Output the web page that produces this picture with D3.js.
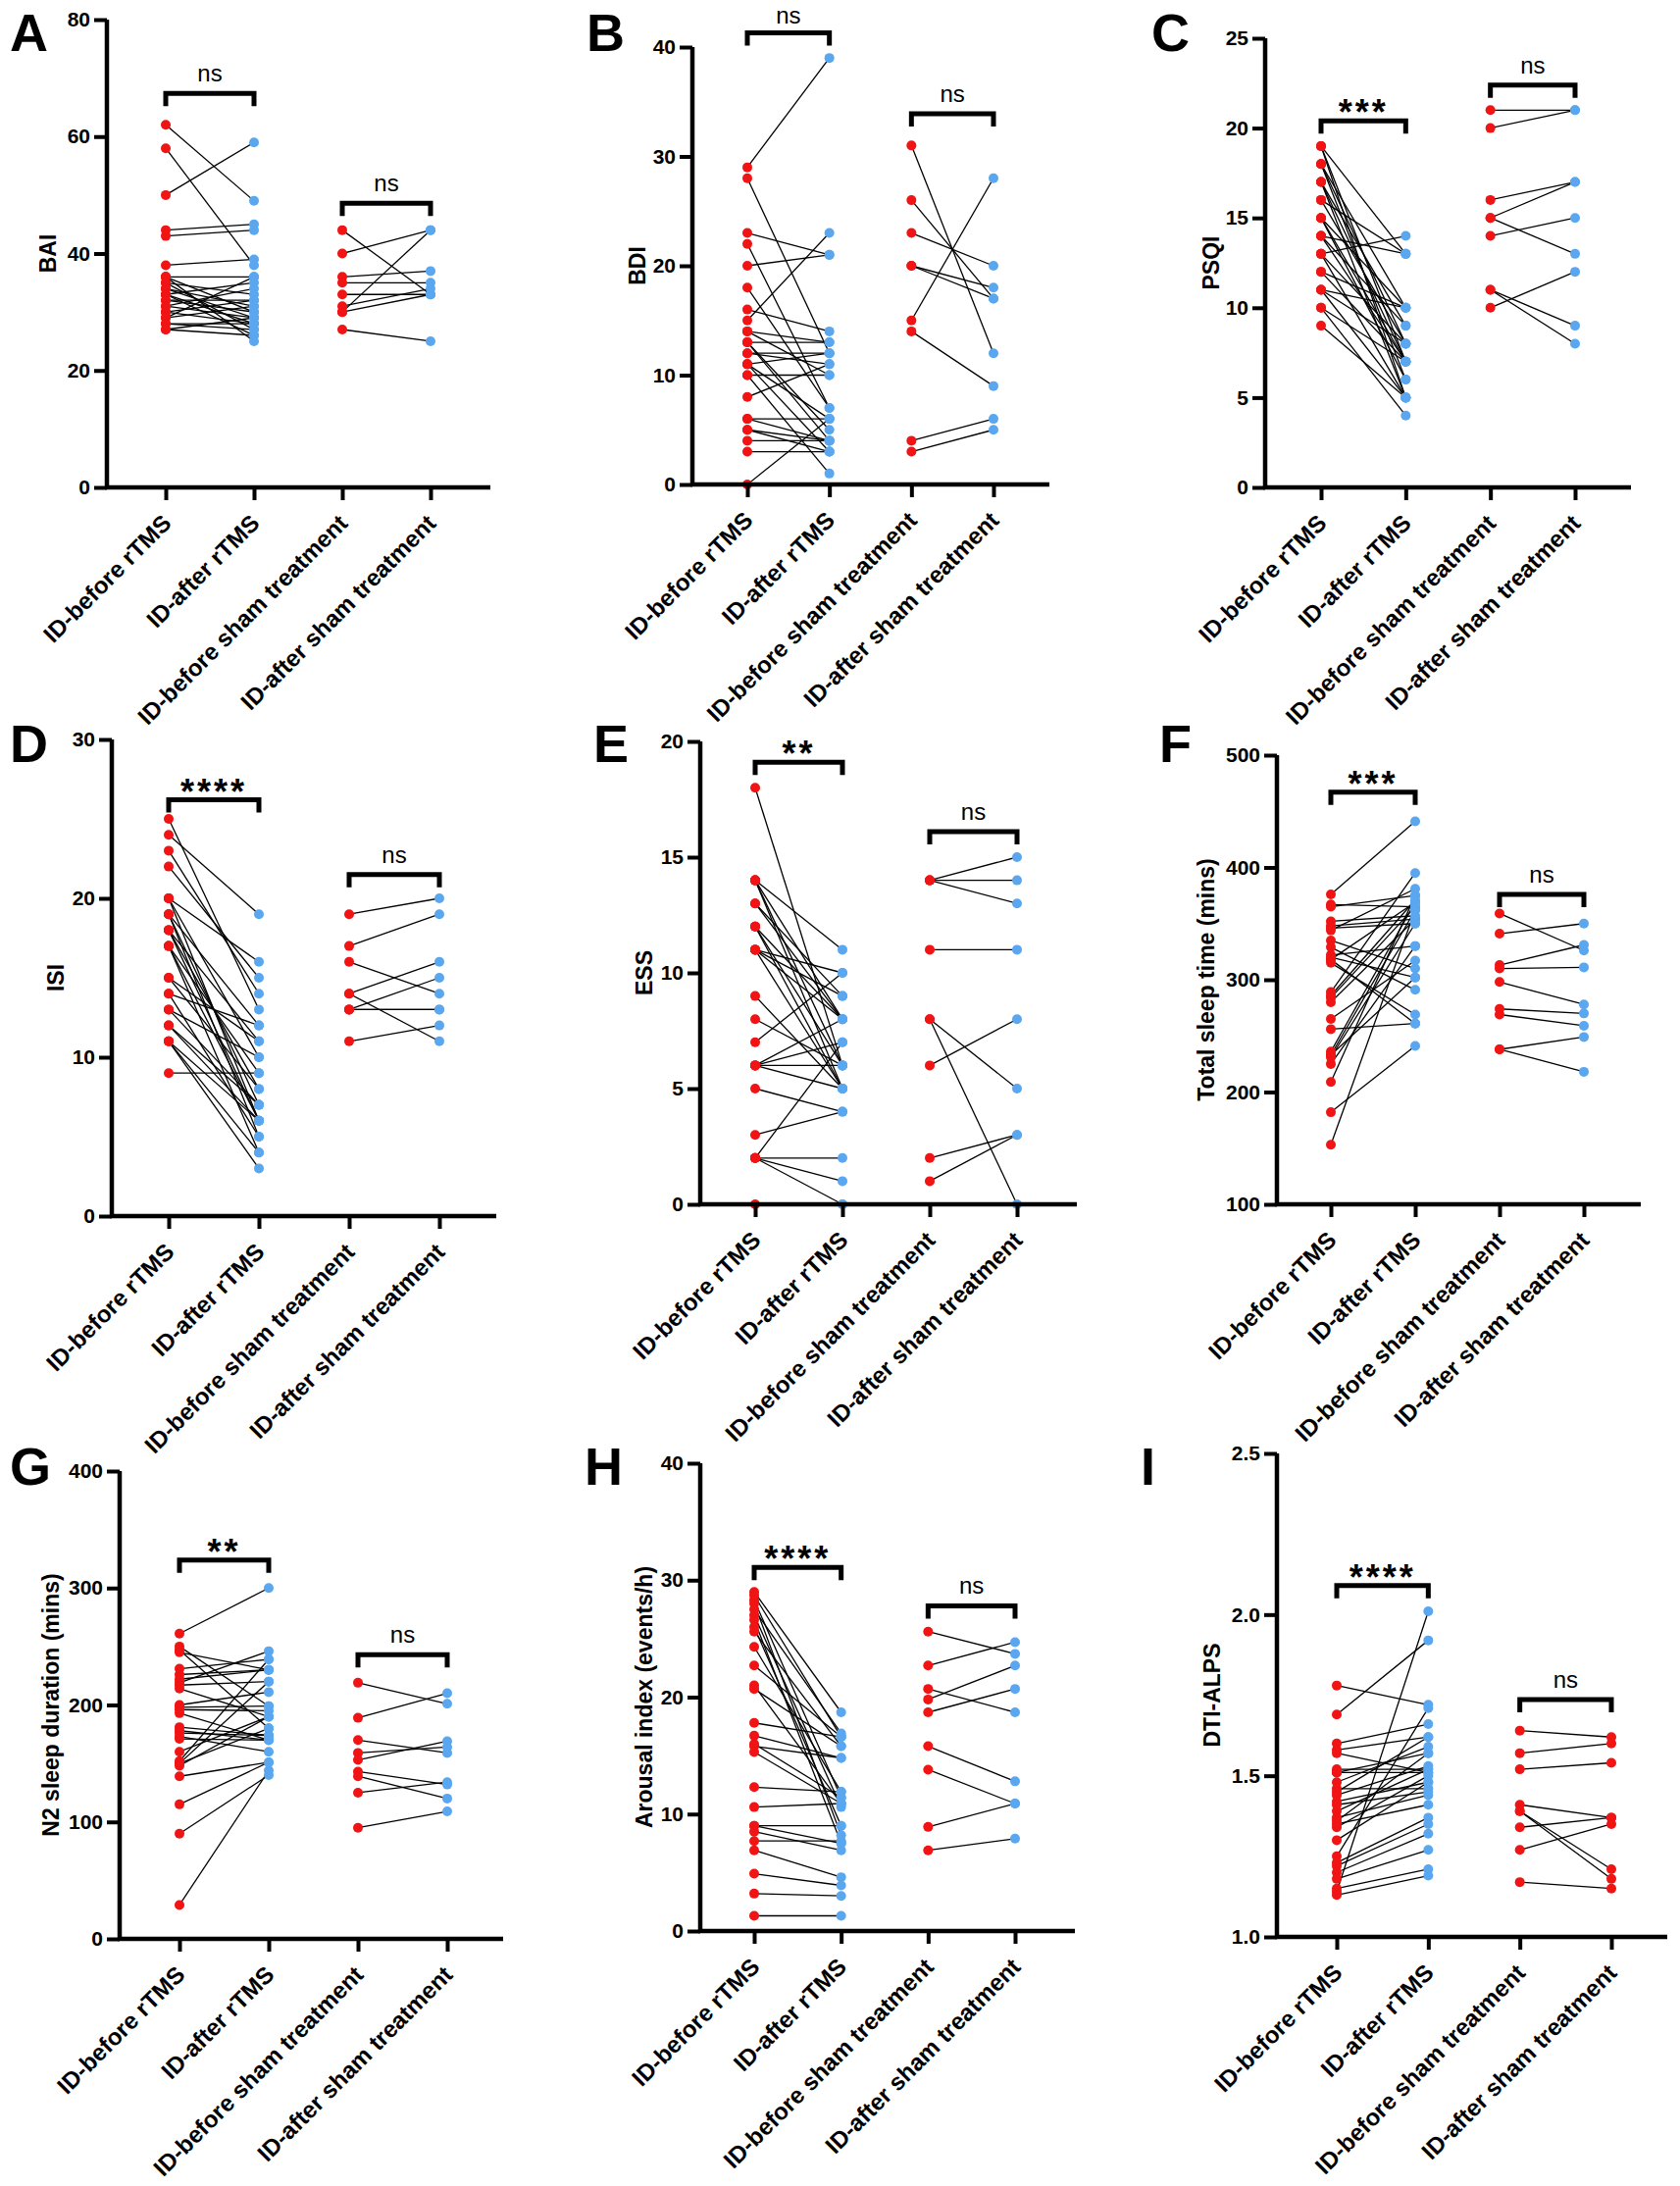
<!DOCTYPE html>
<html>
<head>
<meta charset="utf-8">
<script src="https://cdn.jsdelivr.net/npm/d3@7"></script>
<style>
  body { margin: 0; background: #fff; }
  svg { font-family: "Liberation Sans", Arial, sans-serif; }
</style>
</head>
<body>
<svg id="fig" width="1713" height="2229"></svg>
<script>
const categories = ["ID-before rTMS", "ID-after rTMS", "ID-before sham treatment", "ID-after sham treatment"];

// A - BAI
const baiBefore = [62, 58, 50, 44, 43, 38, 36, 36, 36, 35, 35, 34, 34, 33, 33, 33, 32, 32, 31, 31, 30, 30, 29, 29, 28, 28, 27, 27];
const baiAfter = [49, 38, 59, 45, 44, 39, 30, 25, 36, 27, 33, 29, 31, 35, 26, 28, 32, 30, 29, 34, 32, 28, 36, 31, 28, 27, 29, 26];
const baiShamBefore = [44, 40, 36, 35, 33, 31, 30, 30, 27];
const baiShamAfter = [33, 44, 37, 35, 33, 34, 44, 33, 25];
const baiTicks = [0, 20, 40, 60, 80];

// B - BDI
const bdiBefore = [29, 28, 23, 22, 20, 18, 16, 15, 14, 14, 13, 13, 13, 12, 12, 11, 11, 11, 10, 10, 8, 6, 6, 5, 5, 4, 3, 0];
const bdiAfter = [39, 12, 21, 7, 21, 7, 14, 23, 13, 10, 13, 5, 4, 12, 11, 12, 3, 6, 10, 1, 11, 4, 6, 3, 4, 4, 3, 6];
const bdiShamBefore = [31, 26, 23, 20, 20, 15, 14, 4, 3];
const bdiShamAfter = [12, 17, 20, 18, 17, 28, 9, 6, 5];
const bdiTicks = [0, 10, 20, 30, 40];

// C - PSQI
const psqiBefore = [19, 19, 19, 18, 18, 18, 17, 17, 17, 16, 16, 15, 15, 15, 14, 14, 14, 13, 13, 13, 12, 12, 11, 11, 11, 10, 10, 9];
const psqiAfter = [13, 7, 5, 10, 8, 6, 9, 7, 5, 13, 8, 10, 7, 6, 13, 9, 7, 14, 8, 5, 10, 7, 10, 8, 5, 7, 4, 5];
const psqiShamBefore = [21, 20, 16, 15, 15, 14, 11, 11, 10];
const psqiShamAfter = [21, 21, 17, 17, 13, 15, 9, 8, 12];
const psqiTicks = [0, 5, 10, 15, 20, 25];

// D - ISI
const isiBefore = [25, 24, 23, 22, 20, 20, 20, 19, 19, 19, 18, 18, 18, 17, 17, 17, 15, 15, 14, 14, 13, 13, 12, 12, 11, 11, 11, 9];
const isiAfter = [13, 19, 14, 15, 16, 10, 6, 12, 7, 5, 11, 8, 6, 9, 6, 4, 11, 8, 12, 5, 10, 7, 7, 6, 3, 6, 4, 9];
const isiShamBefore = [19, 17, 16, 14, 14, 13, 13, 11, 13];
const isiShamAfter = [20, 19, 14, 16, 11, 15, 13, 12, 13];
const isiTicks = [0, 10, 20, 30];

// E - ESS
const essBefore = [18, 14, 14, 14, 14, 13, 13, 12, 12, 12, 11, 11, 11, 11, 9, 8, 7, 6, 6, 6, 6, 5, 3, 2, 2, 2, 2, 0];
const essAfter = [6, 11, 8, 6, 5, 8, 9, 8, 5, 6, 10, 8, 5, 9, 5, 6, 10, 8, 7, 6, 5, 4, 4, 7, 2, 1, 0, 0];
const essShamBefore = [14, 14, 14, 11, 8, 8, 6, 2, 1];
const essShamAfter = [15, 14, 13, 11, 5, 0, 8, 3, 3];
const essTicks = [0, 5, 10, 15, 20];

// F - total sleep time
const tstBefore = [376, 367, 365, 352, 348, 346, 344, 335, 329, 322, 320, 318, 318, 315, 289, 286, 284, 280, 265, 256, 236, 233, 233, 231, 225, 209, 182, 153];
const tstAfter = [441, 365, 375, 357, 354, 350, 381, 310, 291, 330, 302, 261, 369, 269, 395, 371, 365, 354, 317, 261, 369, 362, 302, 350, 330, 375, 241, 362];
const tstShamBefore = [359, 341, 313, 310, 298, 274, 269, 238, 238];
const tstShamAfter = [326, 350, 331, 311, 278, 270, 259, 249, 218];
const tstTicks = [100, 200, 300, 400, 500];

// G - N2 sleep duration
const n2Before = [261, 250, 247, 245, 231, 226, 222, 219, 217, 214, 200, 198, 196, 193, 181, 178, 176, 173, 171, 160, 152, 150, 150, 148, 139, 115, 90, 29];
const n2After = [300, 199, 180, 230, 239, 230, 230, 246, 220, 190, 211, 199, 195, 170, 174, 170, 174, 160, 170, 190, 239, 220, 180, 190, 151, 151, 140, 144];
const n2ShamBefore = [219, 189, 170, 159, 153, 143, 139, 125, 95];
const n2ShamAfter = [201, 210, 159, 164, 169, 132, 120, 134, 109];
const n2Ticks = [0, 100, 200, 300, 400];

// H - arousal index
const arousalBefore = [29.0, 28.7, 28.3, 28.0, 27.5, 27.0, 26.6, 26.0, 25.6, 24.3, 22.7, 21.0, 20.7, 17.8, 16.7, 16.0, 15.8, 15.3, 12.3, 10.6, 9.0, 9.0, 8.5, 7.7, 6.9, 4.9, 3.2, 1.3];
const arousalAfter = [18.7, 16.6, 11.4, 8.2, 16.9, 10.6, 7.5, 9.0, 15.8, 11.9, 16.6, 10.9, 15.8, 16.6, 14.8, 11.4, 14.8, 10.9, 11.9, 10.9, 9.0, 7.5, 6.9, 7.7, 4.6, 3.9, 3.0, 1.3];
const arousalShamBefore = [25.6, 22.7, 20.7, 19.8, 18.7, 15.8, 13.8, 8.9, 6.9];
const arousalShamAfter = [23.7, 24.7, 18.7, 22.7, 20.7, 12.8, 10.9, 10.9, 7.9];
const arousalTicks = [0, 10, 20, 30, 40];

// I - DTI-ALPS
const alpsBefore = [1.78, 1.69, 1.60, 1.58, 1.57, 1.52, 1.51, 1.51, 1.48, 1.46, 1.45, 1.44, 1.42, 1.41, 1.39, 1.37, 1.36, 1.35, 1.34, 1.30, 1.25, 1.23, 1.22, 1.20, 1.18, 1.15, 1.14, 1.13];
const alpsAfter = [1.72, 1.92, 1.66, 1.62, 1.51, 1.52, 1.51, 1.57, 1.59, 1.46, 1.62, 1.53, 1.48, 1.45, 1.52, 1.44, 1.57, 1.41, 1.50, 1.48, 1.71, 1.37, 1.35, 1.32, 1.27, 1.21, 2.01, 1.19];
const alpsShamBefore = [1.64, 1.57, 1.52, 1.41, 1.39, 1.39, 1.34, 1.27, 1.17];
const alpsShamAfter = [1.62, 1.60, 1.54, 1.37, 1.21, 1.18, 1.37, 1.35, 1.15];
const alpsTicks = [1.0, 1.5, 2.0, 2.5];

const panels = [
    { letter: "A", title: "BAI", before: baiBefore, after: baiAfter, shamBefore: baiShamBefore, shamAfter: baiShamAfter, ticks: baiTicks, sig: ["ns", "ns"], bracket: [67.4, 48.6] },
    { letter: "B", title: "BDI", before: bdiBefore, after: bdiAfter, shamBefore: bdiShamBefore, shamAfter: bdiShamAfter, ticks: bdiTicks, sig: ["ns", "ns"], bracket: [41.3, 33.9] },
    { letter: "C", title: "PSQI", before: psqiBefore, after: psqiAfter, shamBefore: psqiShamBefore, shamAfter: psqiShamAfter, ticks: psqiTicks, sig: ["***", "ns"], bracket: [20.4, 22.4] },
    { letter: "D", title: "ISI", before: isiBefore, after: isiAfter, shamBefore: isiShamBefore, shamAfter: isiShamAfter, ticks: isiTicks, sig: ["****", "ns"], bracket: [26.2, 21.5] },
    { letter: "E", title: "ESS", before: essBefore, after: essAfter, shamBefore: essShamBefore, shamAfter: essShamAfter, ticks: essTicks, sig: ["**", "ns"], bracket: [19.1, 16.1] },
    { letter: "F", title: "Total sleep time (mins)", before: tstBefore, after: tstAfter, shamBefore: tstShamBefore, shamAfter: tstShamAfter, ticks: tstTicks, sig: ["***", "ns"], bracket: [467, 376] },
    { letter: "G", title: "N2 sleep duration (mins)", before: n2Before, after: n2After, shamBefore: n2ShamBefore, shamAfter: n2ShamAfter, ticks: n2Ticks, sig: ["**", "ns"], bracket: [324, 243] },
    { letter: "H", title: "Arousal index (events/h)", before: arousalBefore, after: arousalAfter, shamBefore: arousalShamBefore, shamAfter: arousalShamAfter, ticks: arousalTicks, sig: ["****", "ns"], bracket: [31.1, 27.8] },
    { letter: "I", title: "DTI-ALPS", before: alpsBefore, after: alpsAfter, shamBefore: alpsShamBefore, shamAfter: alpsShamAfter, ticks: alpsTicks, sig: ["****", "ns"], bracket: [2.09, 1.736], shamAfterRed: true, fmt: ".1f" }
];

// pixel layout of each panel (axis x, first/last category, axis end, y range, title x, letter x/baseline)
const layout = {
    A: { ax: 109, c0: 169, c3: 439, end: 500, top: 20, bot: 497, tx: 49, lx: 10, ly: 52 },
    B: { ax: 706, c0: 762, c3: 1013, end: 1070, top: 48, bot: 494, tx: 650, lx: 598, ly: 52 },
    C: { ax: 1290, c0: 1347, c3: 1606, end: 1663, top: 39, bot: 497, tx: 1235, lx: 1174, ly: 52 },
    D: { ax: 114, c0: 172, c3: 448, end: 506, top: 754, bot: 1240, tx: 57, lx: 10, ly: 777 },
    E: { ax: 714, c0: 770, c3: 1037, end: 1098, top: 756, bot: 1228, tx: 657, lx: 605, ly: 777 },
    F: { ax: 1302, c0: 1357, c3: 1615, end: 1673, top: 770, bot: 1228, tx: 1230, lx: 1182, ly: 777 },
    G: { ax: 122, c0: 183, c3: 456, end: 513, top: 1500, bot: 1977, tx: 52, lx: 10, ly: 1514 },
    H: { ax: 714, c0: 769, c3: 1035, end: 1096, top: 1492, bot: 1969, tx: 657, lx: 596, ly: 1514 },
    I: { ax: 1302, c0: 1363, c3: 1643, end: 1700, top: 1482, bot: 1975, tx: 1236, lx: 1163, ly: 1514 }
};

const red = "#f01414";
const blue = "#5aa7f0";
const svg = d3.select("#fig");

panels.forEach(p => {
    const L = layout[p.letter];
    const g = svg.append("g");

    const x = d3.scalePoint().domain(categories).range([L.c0, L.c3]);
    const y = d3.scaleLinear().domain([p.ticks[0], p.ticks[p.ticks.length - 1]]).range([L.bot, L.top]);
    const fmt = d3.format(p.fmt || "d");

    // paired lines
    const pairs = p.before.map((v, i) => ({ a: v, b: p.after[i], c0: categories[0], c1: categories[1] }))
        .concat(p.shamBefore.map((v, i) => ({ a: v, b: p.shamAfter[i], c0: categories[2], c1: categories[3] })));

    g.selectAll("line.pair")
        .data(pairs)
        .enter()
        .append("line")
        .attr("class", "pair")
        .attr("x1", d => x(d.c0))
        .attr("x2", d => x(d.c1))
        .attr("y1", d => y(d.a))
        .attr("y2", d => y(d.b))
        .attr("stroke", "#000")
        .attr("stroke-width", 1.3);

    const dots = [
        { cat: categories[0], vals: p.before, color: red },
        { cat: categories[1], vals: p.after, color: blue },
        { cat: categories[2], vals: p.shamBefore, color: red },
        { cat: categories[3], vals: p.shamAfter, color: p.shamAfterRed ? red : blue }
    ];
    dots.forEach(s => {
        g.selectAll(null)
            .data(s.vals)
            .enter()
            .append("circle")
            .attr("cx", x(s.cat))
            .attr("cy", d => y(d))
            .attr("r", 5)
            .attr("fill", s.color);
    });

    // y axis
    const yAxis = g.append("g")
        .attr("transform", `translate(${L.ax},0)`)
        .call(d3.axisLeft(y).tickValues(p.ticks).tickFormat(fmt).tickSize(13).tickSizeOuter(0).tickPadding(4));
    yAxis.select(".domain").remove();
    yAxis.selectAll(".tick line").attr("stroke", "#000").attr("stroke-width", 4);
    yAxis.selectAll(".tick text")
        .attr("fill", "#000")
        .style("font-size", "21px")
        .style("font-weight", "bold");
    g.append("line")
        .attr("x1", L.ax).attr("x2", L.ax)
        .attr("y1", L.top).attr("y2", L.bot + 2)
        .attr("stroke", "#000").attr("stroke-width", 4.5);

    // x axis
    const xAxis = g.append("g")
        .attr("transform", `translate(0,${L.bot})`)
        .call(d3.axisBottom(x).tickSize(13).tickSizeOuter(0));
    xAxis.select(".domain").remove();
    xAxis.selectAll(".tick line").attr("stroke", "#000").attr("stroke-width", 4);
    xAxis.selectAll(".tick text").remove();
    g.append("line")
        .attr("x1", L.ax - 2).attr("x2", L.end)
        .attr("y1", L.bot).attr("y2", L.bot)
        .attr("stroke", "#000").attr("stroke-width", 4.5);

    g.selectAll("text.xlab")
        .data(categories)
        .enter()
        .append("text")
        .attr("class", "xlab")
        .attr("transform", d => `translate(${x(d) + 7},${L.bot + 38}) rotate(-45)`)
        .attr("text-anchor", "end")
        .style("font-size", "24px")
        .style("font-weight", "bold")
        .text(d => d);

    // y title
    g.append("text")
        .attr("transform", `translate(${L.tx + 8},${(L.top + L.bot) / 2}) rotate(-90)`)
        .attr("text-anchor", "middle")
        .style("font-size", "23px")
        .style("font-weight", "bold")
        .text(p.title);

    // panel letter
    g.append("text")
        .attr("x", L.lx)
        .attr("y", L.ly)
        .style("font-size", "54px")
        .style("font-weight", "bold")
        .text(p.letter);

    // significance brackets
    [[0, 1], [2, 3]].forEach((idx, k) => {
        const xa = x(categories[idx[0]]);
        const xb = x(categories[idx[1]]);
        const yb = y(p.bracket[k]);
        g.append("path")
            .attr("d", `M${xa},${yb + 13}V${yb}H${xb}V${yb + 13}`)
            .attr("fill", "none")
            .attr("stroke", "#000")
            .attr("stroke-width", 5);
        const label = p.sig[k];
        const star = label !== "ns";
        // keep the label inside the picture when the bracket sits near the top edge
        const ty = star ? yb + 4 : Math.max(yb - 12, 24);
        g.append("text")
            .attr("x", (xa + xb) / 2)
            .attr("y", ty)
            .attr("text-anchor", "middle")
            .style("font-size", star ? "36px" : "24px")
            .style("font-weight", star ? "bold" : "normal")
            .style("letter-spacing", star ? "3px" : "0px")
            .text(label);
    });
});
</script>
</body>
</html>
